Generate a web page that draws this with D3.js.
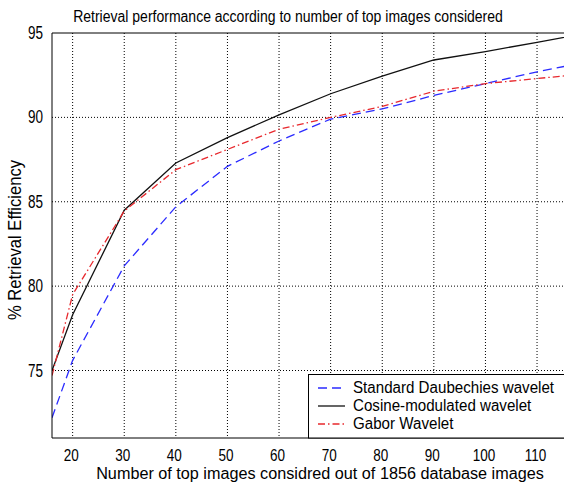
<!DOCTYPE html>
<html>
<head>
<meta charset="utf-8">
<script src="https://cdn.jsdelivr.net/npm/d3@7"></script>
<style>
  body { margin: 0; background: #fff; }
  svg text { font-family: Arial, "Liberation Sans", sans-serif; fill: #000; }
</style>
</head>
<body>
<svg width="564" height="482"></svg>
<script>
// values
const topImages = [16, 20, 30, 40, 50, 60, 70, 80, 90, 100, 110, 120];
const daubechies = [72.2, 75.6, 81.2, 84.7, 87.1, 88.6, 89.9, 90.5, 91.3, 92.0, 92.7, 93.3];
const cosineMod = [75.0, 78.3, 84.5, 87.3, 88.8, 90.15, 91.4, 92.45, 93.4, 93.9, 94.45, 95.0];
const gabor = [74.7, 79.5, 84.45, 86.9, 88.1, 89.3, 90.0, 90.65, 91.55, 92.0, 92.3, 92.6];
const xTicks = [20, 30, 40, 50, 60, 70, 80, 90, 100, 110];
const yTicks = [75, 80, 85, 90, 95];

const seriesNames = ['Standard Daubechies wavelet', 'Cosine-modulated wavelet', 'Gabor Wavelet'];
const seriesValues = [daubechies, cosineMod, gabor];
const seriesColors = ['#2b2bff', '#111', '#e8282d'];
const seriesDash = ['9,5', null, '7,3,1.5,3'];

const svg = d3.select('svg');
const plotLeft = 52, plotTop = 33, plotBottom = 438;

const x = d3.scaleLinear().domain([16, 116]).range([plotLeft, plotLeft + 100 * 5.16]);
const y = d3.scaleLinear().domain([71, 95]).range([plotBottom, plotTop]);
const plotRight = x(116);

// size a text so it takes a given width
function fitWidth(sel, w) {
  sel.each(function () {
    const len = this.getComputedTextLength();
    const f = +this.getAttribute('font-size');
    this.setAttribute('font-size', f * w / len);
  });
}

// clip so lines stop at the axes box
svg.append('clipPath').attr('id', 'plotclip')
  .append('rect').attr('x', plotLeft).attr('y', plotTop)
  .attr('width', plotRight - plotLeft).attr('height', plotBottom - plotTop);

// dotted grid
svg.append('g').selectAll('line')
  .data(xTicks)
  .enter().append('line')
  .attr('x1', d => x(d)).attr('x2', d => x(d))
  .attr('y1', plotTop).attr('y2', plotBottom)
  .attr('stroke', '#000').attr('stroke-width', 1)
  .attr('stroke-dasharray', '1,2');

svg.append('g').selectAll('line')
  .data(yTicks.filter(d => d < 95))
  .enter().append('line')
  .attr('x1', plotLeft).attr('x2', plotRight)
  .attr('y1', d => y(d)).attr('y2', d => y(d))
  .attr('stroke', '#000').attr('stroke-width', 1)
  .attr('stroke-dasharray', '1,2');

// the lines
const line = d3.line()
  .x((d, i) => x(topImages[i]))
  .y(d => y(d));

svg.append('g').attr('clip-path', 'url(#plotclip)')
  .selectAll('path')
  .data(seriesValues)
  .enter().append('path')
  .attr('d', line)
  .attr('fill', 'none')
  .attr('stroke', (d, i) => seriesColors[i])
  .attr('stroke-width', 1.3)
  .attr('stroke-dasharray', (d, i) => seriesDash[i]);

// axes box (left, top, bottom)
svg.append('path')
  .attr('d', `M${plotRight},${plotTop}H${plotLeft}V${plotBottom}H${plotRight}`)
  .attr('fill', 'none').attr('stroke', '#000').attr('stroke-width', 1);

// tick labels, narrow and tall like the reference
svg.append('g').selectAll('text')
  .data(yTicks)
  .enter().append('text')
  .attr('transform', d => `translate(43,${y(d) + 6}) scale(1,1.3)`)
  .attr('text-anchor', 'end')
  .attr('font-size', 13.5)
  .text(d => d);

svg.append('g').selectAll('text')
  .data(xTicks)
  .enter().append('text')
  .attr('transform', d => `translate(${x(d) - 1.5},461) scale(1,1.25)`)
  .attr('text-anchor', 'middle')
  .attr('font-size', 13.5)
  .text(d => d);

// titles
svg.append('text')
  .attr('transform', 'translate(288,21.5) scale(1,1.2)')
  .attr('text-anchor', 'middle').attr('font-size', 14)
  .text('Retrieval performance according to number of top images considered')
  .call(fitWidth, 430);

svg.append('text')
  .attr('transform', 'translate(320,479)')
  .attr('text-anchor', 'middle').attr('font-size', 14)
  .text('Number of top images considred out of 1856 database images')
  .call(fitWidth, 448);

svg.append('text')
  .attr('transform', 'translate(21,240) rotate(-90) scale(1,1.1)')
  .attr('text-anchor', 'middle').attr('font-size', 14)
  .text('% Retrieval Efficiency')
  .call(fitWidth, 160);

// legend
const lg = svg.append('g');
lg.append('rect')
  .attr('x', 308.5).attr('y', 374.5)
  .attr('width', plotRight - 308.5).attr('height', plotBottom - 374.5)
  .attr('fill', '#fff').attr('stroke', '#000').attr('stroke-width', 1);

const rows = lg.selectAll('g.row')
  .data(seriesNames)
  .enter().append('g').attr('class', 'row')
  .attr('transform', (d, i) => `translate(0,${388 + i * 18})`);

rows.append('line')
  .attr('x1', 318).attr('x2', 345)
  .attr('stroke', (d, i) => seriesColors[i])
  .attr('stroke-width', 1.3)
  .attr('stroke-dasharray', (d, i) => seriesDash[i]);

const legendText = rows.append('text')
  .attr('transform', 'translate(353,5) scale(1,1.1)')
  .attr('font-size', 14)
  .text(d => d);
// size all three from the first one so they share one font size
const legendSize = 14 * 201 / legendText.node().getComputedTextLength();
legendText.attr('font-size', legendSize);
</script>
</body>
</html>
